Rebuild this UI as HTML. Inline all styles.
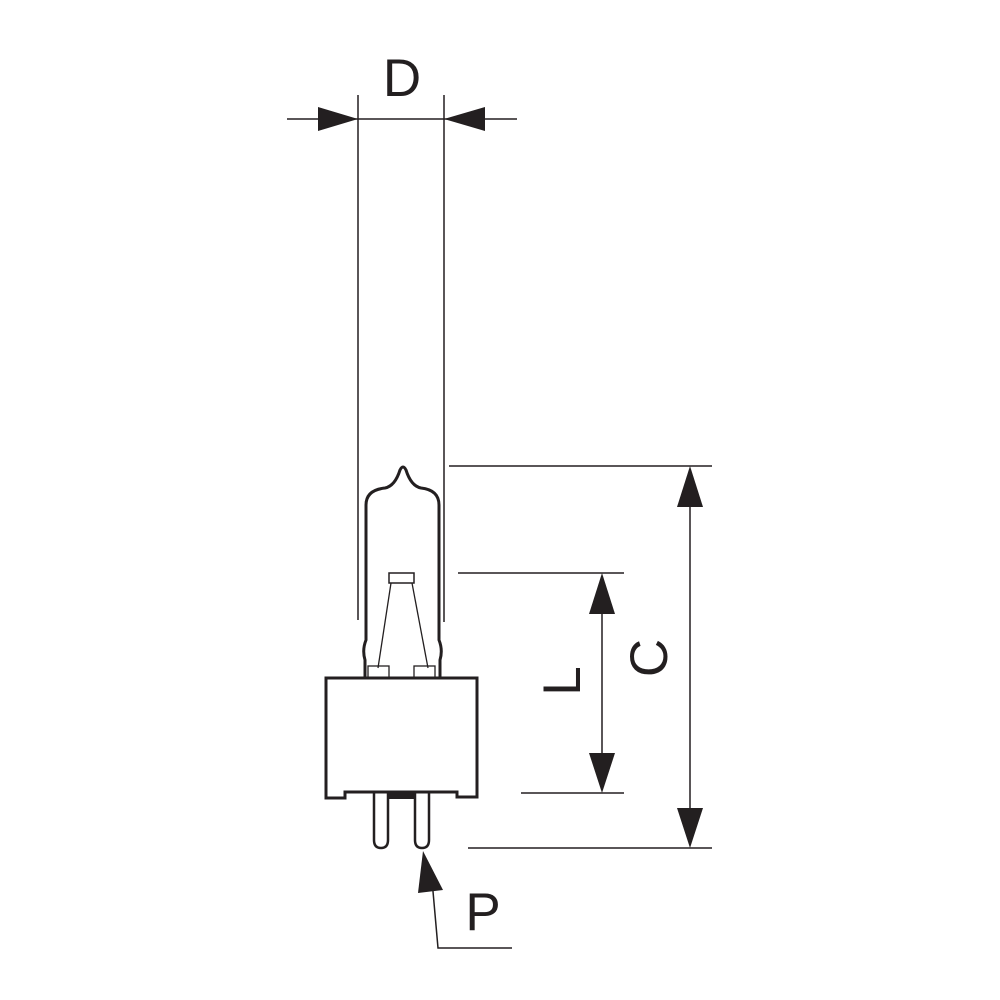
<!DOCTYPE html>
<html><head><style>html,body{margin:0;padding:0;background:#fff;}svg{display:block}</style></head>
<body>
<svg width="1000" height="1000" viewBox="0 0 1000 1000" xmlns="http://www.w3.org/2000/svg">
<g fill="none" stroke="#231f20">
<!-- D dimension -->
<line x1="358" y1="95" x2="358" y2="620" stroke-width="1.5"/>
<line x1="444" y1="95" x2="444" y2="622" stroke-width="1.5"/>
<line x1="287" y1="119" x2="517" y2="119" stroke-width="1.5"/>
<!-- C -->
<line x1="449" y1="466" x2="712" y2="466" stroke-width="1.5"/>
<line x1="468" y1="848" x2="712" y2="848" stroke-width="1.5"/>
<line x1="690" y1="480" x2="690" y2="835" stroke-width="1.5"/>
<!-- L -->
<line x1="458" y1="573" x2="624" y2="573" stroke-width="1.5"/>
<line x1="521" y1="793" x2="624" y2="793" stroke-width="1.5"/>
<line x1="602" y1="590" x2="602" y2="775" stroke-width="1.5"/>
<!-- P -->
<polyline points="432,880 438,948 512,948" stroke-width="1.5"/>
<!-- bulb -->
<path d="M365,678 L365,660 Q362,650 366,640 L366,505 Q366,490 385,488 Q395,486 400,470 Q403,464 406,470 Q411,486 421,488 Q439,490 439,505 L439,640 Q443,650 440,660 L440,678" stroke-width="3"/>
<!-- filament -->
<rect x="389" y="573" width="25" height="10" stroke-width="1.5"/>
<line x1="391" y1="583" x2="378" y2="668" stroke-width="1.3"/>
<line x1="412" y1="583" x2="428" y2="668" stroke-width="1.3"/>
<rect x="368" y="666" width="21" height="12" stroke-width="1.3"/>
<rect x="414" y="666" width="21" height="12" stroke-width="1.3"/>
<!-- base -->
<path d="M326,798 L326,678 L477,678 L477,797 L457,797 L457,792 L345,792 L345,798 Z" stroke-width="3"/>
<!-- pins -->
<path d="M374,793 L374,840 Q374,848 381,848 Q388,848 388,840 L388,793" stroke-width="2.5"/>
<path d="M415,793 L415,840 Q415,848 422,848 Q429,848 429,840 L429,793" stroke-width="2.5"/>
</g>
<rect x="388" y="792" width="27" height="7" fill="#231f20"/>
<g fill="#231f20">
<polygon points="358,119 318,107 318,131"/>
<polygon points="444,119 485,107 485,131"/>
<polygon points="690,466 677,507 703,507"/>
<polygon points="690,848 677,808 703,808"/>
<polygon points="602,573 589,614 615,614"/>
<polygon points="602,793 589,753 615,753"/>
<polygon points="423,851 418,893 443,890"/>
</g>
<g font-family="Liberation Sans, sans-serif" font-size="53" fill="#231f20">
<text x="402" y="96" text-anchor="middle">D</text>
<text x="483" y="930" text-anchor="middle">P</text>
<text transform="translate(667,658) rotate(-90)" text-anchor="middle">C</text>
<text transform="translate(580,681) rotate(-90)" text-anchor="middle">L</text>
</g>
</svg>
</body></html>
